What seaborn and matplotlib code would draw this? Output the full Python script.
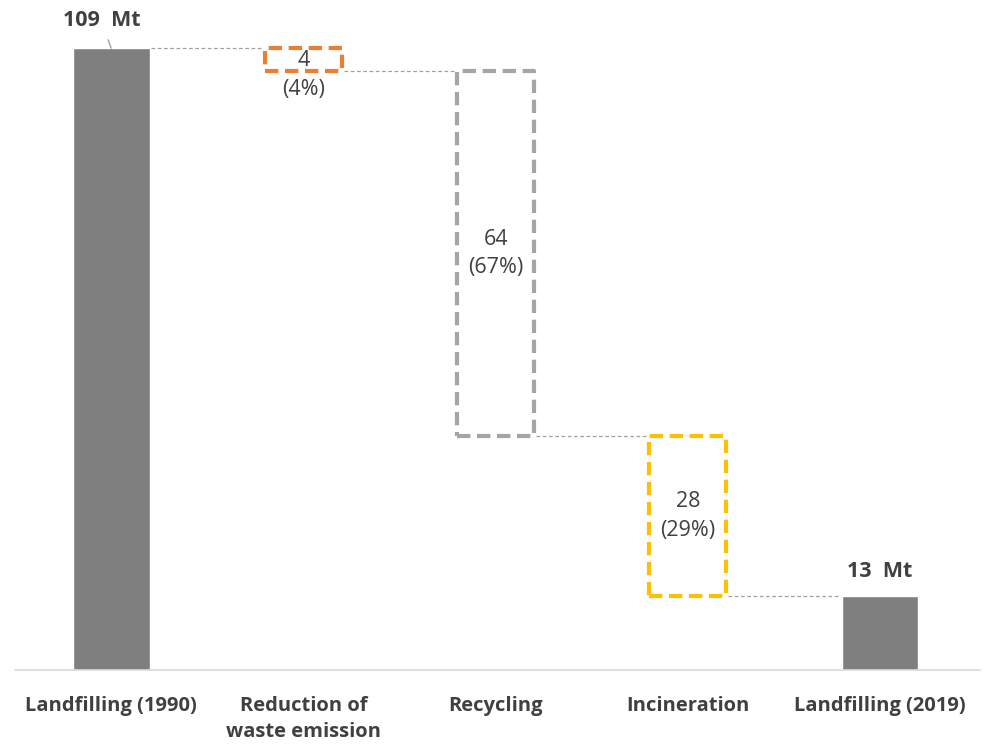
import numpy as np
import pandas as pd
import matplotlib
matplotlib.use("Agg")
import matplotlib.pyplot as plt
import seaborn as sns

# data
categories = ["Landfilling (1990)", "Reduction of\nwaste emission", "Recycling", "Incineration", "Landfilling (2019)"]
start_total = 109
end_total = 13
steps = [4, 64, 28]
step_pct = ["4%", "67%", "29%"]
step_colors = ["#ED7D31", "#A5A5A5", "#FFC000"]

sns.set_theme(style="white")
plt.rcParams["font.family"] = ["Open Sans", "DejaVu Sans"]

totals = pd.DataFrame({"cat": categories, "value": [start_total, 0, 0, 0, end_total]})

fig = plt.figure(figsize=(9.93, 7.45), dpi=100)
ax = fig.add_axes([15 / 993, 75 / 745, 965 / 993, 656 / 745])

sns.barplot(data=totals, x="cat", y="value", color="#7F7F7F", width=0.4,
            saturation=1, ax=ax, zorder=2)

# floating steps
level = start_total
levels = [start_total]
for i, (s, c, p) in enumerate(zip(steps, step_colors, step_pct)):
    bottom = level - s
    ax.bar(i + 1, s, bottom=bottom, width=0.4, fill=False, edgecolor=c,
           linewidth=3.0, linestyle=(0, (3.2, 1.6)), joinstyle="round", zorder=3)
    if s < 10:
        ax.text(i + 1, bottom + s / 2 - 0.2, str(s), ha="center", va="center",
                fontsize=15.5, color="#404040")
        ax.text(i + 1, bottom - 3.2, f"({p})", ha="center", va="center",
                fontsize=15.5, color="#404040")
    else:
        ax.text(i + 1, bottom + s / 2, f"{s}\n({p})", ha="center", va="center",
                fontsize=15.5, color="#404040", linespacing=1.45)
    level = bottom
    levels.append(level)

# connector lines
for i, lv in enumerate(levels):
    ax.plot([i + 0.21, i + 0.79], [lv, lv], color="#A0A0A0", lw=0.9,
            linestyle=(0, (3, 2)), zorder=1)

# total labels
ax.annotate(f"{start_total}  Mt", xy=(0, start_total), xytext=(-0.05, 113.8),
            ha="center", va="center", fontsize=15.5, fontweight="bold", color="#404040",
            arrowprops=dict(arrowstyle="-", color="#A0A0A0", lw=1.0,
                            shrinkA=4, shrinkB=0))
ax.text(4, end_total + 4.3, f"{end_total}  Mt", ha="center", va="center",
        fontsize=15.5, fontweight="bold", color="#404040")

ax.set_xlim(-0.5, 4.52)
ax.set_ylim(0, 115)
ax.set_xlabel("")
ax.set_ylabel("")
ax.set_yticks([])
ax.tick_params(axis="x", length=0, pad=19)
for lab in ax.get_xticklabels():
    lab.set_fontweight("bold")
    lab.set_fontsize(14.5)
    lab.set_color("#404040")
    lab.set_va("top")
    lab.set_linespacing(1.35)
for sp in ["top", "right", "left"]:
    ax.spines[sp].set_visible(False)
ax.spines["bottom"].set_color("#D9D9D9")
ax.spines["bottom"].set_linewidth(1.2)

fig.savefig("out.png", dpi=100)
